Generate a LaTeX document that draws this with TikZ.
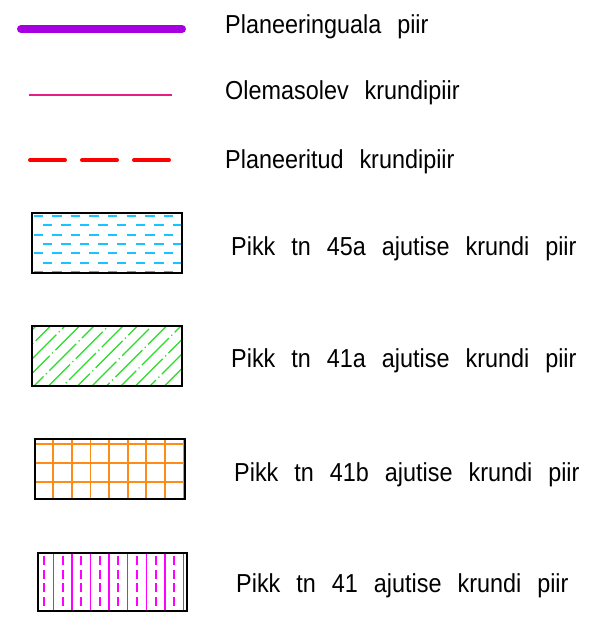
\documentclass[tikz,border=0pt]{standalone}
\usepackage{fontspec}
\setmainfont{Liberation Sans}
\newfontfamily\cadfont[FakeStretch=0.9]{Liberation Sans}
\newcommand\legendfont{\cadfont\fontsize{26}{30}\selectfont\spaceskip=16pt\relax}

\definecolor{planpurple}{RGB}{166,0,224}
\definecolor{oldpink}{RGB}{228,30,135}
\definecolor{hatchcyan}{RGB}{25,195,255}
\definecolor{hatchgreen}{RGB}{40,220,40}
\definecolor{gridorange}{RGB}{255,140,25}
\definecolor{stripemag}{RGB}{255,0,255}

\begin{document}
\begin{tikzpicture}[x=1pt, y=-1pt,
        legendlabel/.style={font=\legendfont, anchor=base west, inner sep=0pt},
        legendbox/.style={draw=black, line width=2pt}]
        \useasboundingbox (0,0) rectangle (589,631);

        % line samples
        \coordinate (pa) at (21,29);
        \coordinate (pb) at (182,29);
        \draw[planpurple, line width=8pt, line cap=round] (pa) -- (pb);
        \coordinate (oa) at (29,95);
        \coordinate (ob) at (172,95);
        \draw[oldpink, line width=1.6pt] (oa) -- (ob);
        \coordinate (ra) at (30,160);
        \coordinate (rb) at (169,160);
        \draw[red, line width=4pt, line cap=round, dash pattern=on 35pt off 17pt] (ra) -- (rb);

        % Pikk 45a
        \begin{scope}
            \clip (32,213) rectangle (182,273);
            \foreach \r in {0,...,6} {
                    \pgfmathsetmacro\ry{216+9.33*\r}
                    \pgfmathsetmacro\rx{isodd(\r) ? 42.5 : 33.5}
                    \draw[hatchcyan, line width=1.8pt, dash pattern=on 9.5pt off 9.1pt] (\rx,\ry) -- (184,\ry);
                }
        \end{scope}
        \draw[legendbox] (32,213) rectangle (182,273);

        % Pikk 41a
        \begin{scope}
            \clip (32,326) rectangle (182,386);
            \foreach \k in {0,...,15} {
                    \pgfmathsetmacro\ph{mod(\k*17,47)}
                    \draw[hatchgreen, line width=1.4pt, dash pattern=on 38pt off 3.5pt on 1.2pt off 3.5pt, dash phase=\ph pt]
                        ({36+14.5*\k},326) -- ++(-62,62);
                }
        \end{scope}
        \draw[legendbox] (32,326) rectangle (182,386);

        % Pikk 41b
        \foreach \k in {0,...,8} {
                \draw[gridorange, line width=1.8pt] ({34.7+18.6*\k},439) -- ({34.7+18.6*\k},499);
            }
        \foreach \j in {0,...,2} {
                \draw[gridorange, line width=1.8pt] (35,{444.3+18.7*\j}) -- (185,{444.3+18.7*\j});
            }
        \draw[legendbox] (35,439) rectangle (185,499);

        % Pikk 41
        \foreach \k in {0,...,7} {
                \draw[stripemag, line width=1.3pt] ({53.3+18.6*\k},553) -- ({53.3+18.6*\k},611);
                \draw[stripemag, line width=2pt, dash pattern=on 9pt off 4.7pt] ({44+18.6*\k},556) -- ({44+18.6*\k},611);
            }
        \draw[legendbox] (38,553) rectangle (187,611);

        \node[legendlabel] (lplan) at (225,34) {Planeeringuala piir};
        \node[legendlabel] (lold) at (225,100) {Olemasolev krundipiir};
        \node[legendlabel] (lnew) at (225,168) {Planeeritud krundipiir};
        \node[legendlabel] (l45a) at (231,255) {Pikk tn 45a ajutise krundi piir};
        \node[legendlabel] (l41a) at (231,367) {Pikk tn 41a ajutise krundi piir};
        \node[legendlabel] (l41b) at (234,481) {Pikk tn 41b ajutise krundi piir};
        \node[legendlabel] (l41) at (236,592) {Pikk tn 41 ajutise krundi piir};
\end{tikzpicture}
\end{document}
